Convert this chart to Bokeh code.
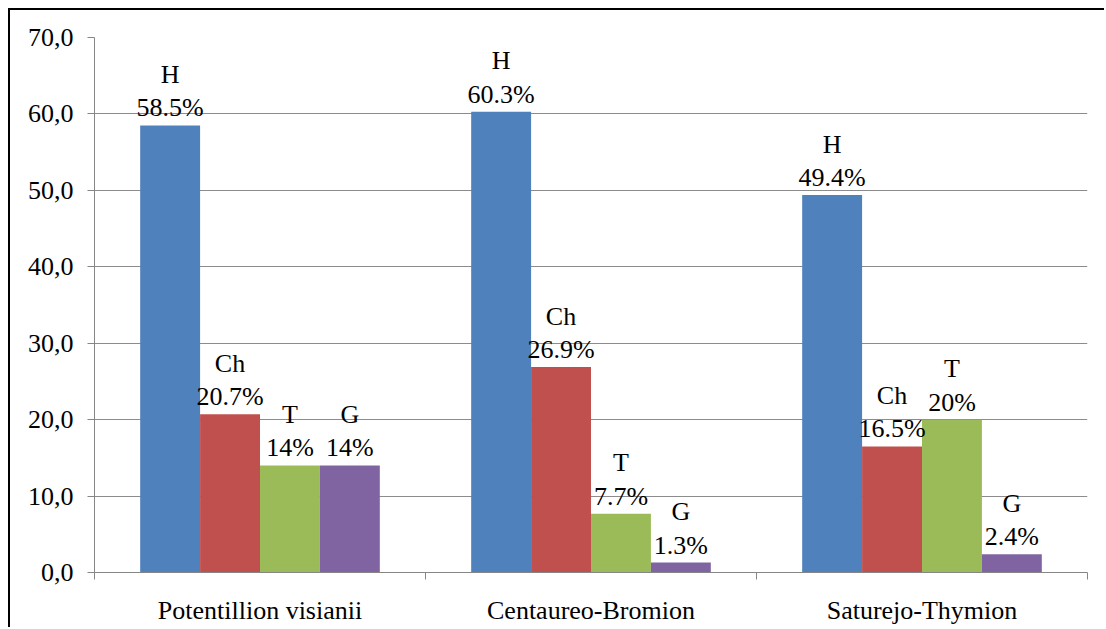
from bokeh.plotting import figure
from bokeh.models import ColumnDataSource, FixedTicker, Range1d
from bokeh.core.properties import value
from bokeh.embed import file_html
from bokeh.resources import INLINE

# Life-form spectrum per alliance (percent of species)
alliances = ["Potentillion visianii", "Centaureo-Bromion", "Saturejo-Thymion"]
life_forms = ["H", "Ch", "T", "G"]
colors = ["#4F81BD", "#C0504D", "#9BBB59", "#8064A2"]
h_vals = [58.5, 60.3, 49.4]
ch_vals = [20.7, 26.9, 16.5]
t_vals = [14.0, 7.7, 20.0]
g_vals = [14.0, 1.3, 2.4]
y_ticks = [0, 10, 20, 30, 40, 50, 60, 70]

series = [h_vals, ch_vals, t_vals, g_vals]
FONT = "Times New Roman"
bar_w = 0.181

xs, tops, fills, labels = [], [], [], []
for gi, _ in enumerate(alliances):
    for si, lf in enumerate(life_forms):
        v = series[si][gi]
        xs.append(gi + 0.5 + (si - 1.5) * bar_w)
        tops.append(v)
        fills.append(colors[si])
        labels.append(f"{lf}\n{v:g}%")

src = ColumnDataSource(dict(x=xs, top=tops, fill=fills, label=labels))

p = figure(
    width=1096, height=619,
    x_range=Range1d(0, 3), y_range=Range1d(0, 70),
    output_backend="svg", toolbar_location=None,
    min_border_left=84, min_border_right=19,
    min_border_top=27, min_border_bottom=57,
)
p.styles = {
    "margin-left": "8px", "margin-top": "8px",
    "border-top": "2px solid #000000", "border-left": "2px solid #000000",
}
p.outline_line_color = None
p.background_fill_color = "white"
p.border_fill_color = "white"

p.vbar(x="x", top="top", bottom=0, width=bar_w, fill_color="fill",
       line_color=None, source=src)
p.text(x="x", y="top", text="label", source=src,
       text_align="center", text_baseline="bottom", y_offset=-3,
       text_font=value(FONT), text_font_size="26px", text_color="black",
       text_line_height=1.15)

# grid
p.xgrid.visible = False
p.ygrid.ticker = FixedTicker(ticks=y_ticks)
p.ygrid.grid_line_color = "#8c8c8c"
p.ygrid.grid_line_width = 1

# y axis
yax = p.yaxis[0]
yax.ticker = FixedTicker(ticks=y_ticks)
yax.major_label_overrides = {t: f"{t:.1f}".replace(".", ",") for t in y_ticks}
yax.axis_line_color = "#868686"
yax.major_tick_line_color = "#868686"
yax.major_tick_in = 0
yax.major_tick_out = 7
yax.minor_tick_line_color = None
yax.major_label_text_font = FONT
yax.major_label_text_font_size = "26px"
yax.major_label_text_color = "black"
yax.major_label_standoff = 14

# x axis: category names centred, tick marks on group boundaries
centers = [i + 0.5 for i in range(len(alliances))]
bounds = list(range(len(alliances) + 1))
xax = p.xaxis[0]
xax.ticker = FixedTicker(ticks=centers, minor_ticks=bounds)
xax.major_label_overrides = {c: name for c, name in zip(centers, alliances)}
xax.axis_line_color = "#868686"
xax.major_tick_line_color = None
xax.major_tick_in = 0
xax.major_tick_out = 0
xax.minor_tick_line_color = "#868686"
xax.minor_tick_in = 0
xax.minor_tick_out = 7
xax.major_label_text_font = FONT
xax.major_label_text_font_size = "26px"
xax.major_label_text_color = "black"
xax.major_label_standoff = 16

open("out.html", "w").write(file_html(p, INLINE))
